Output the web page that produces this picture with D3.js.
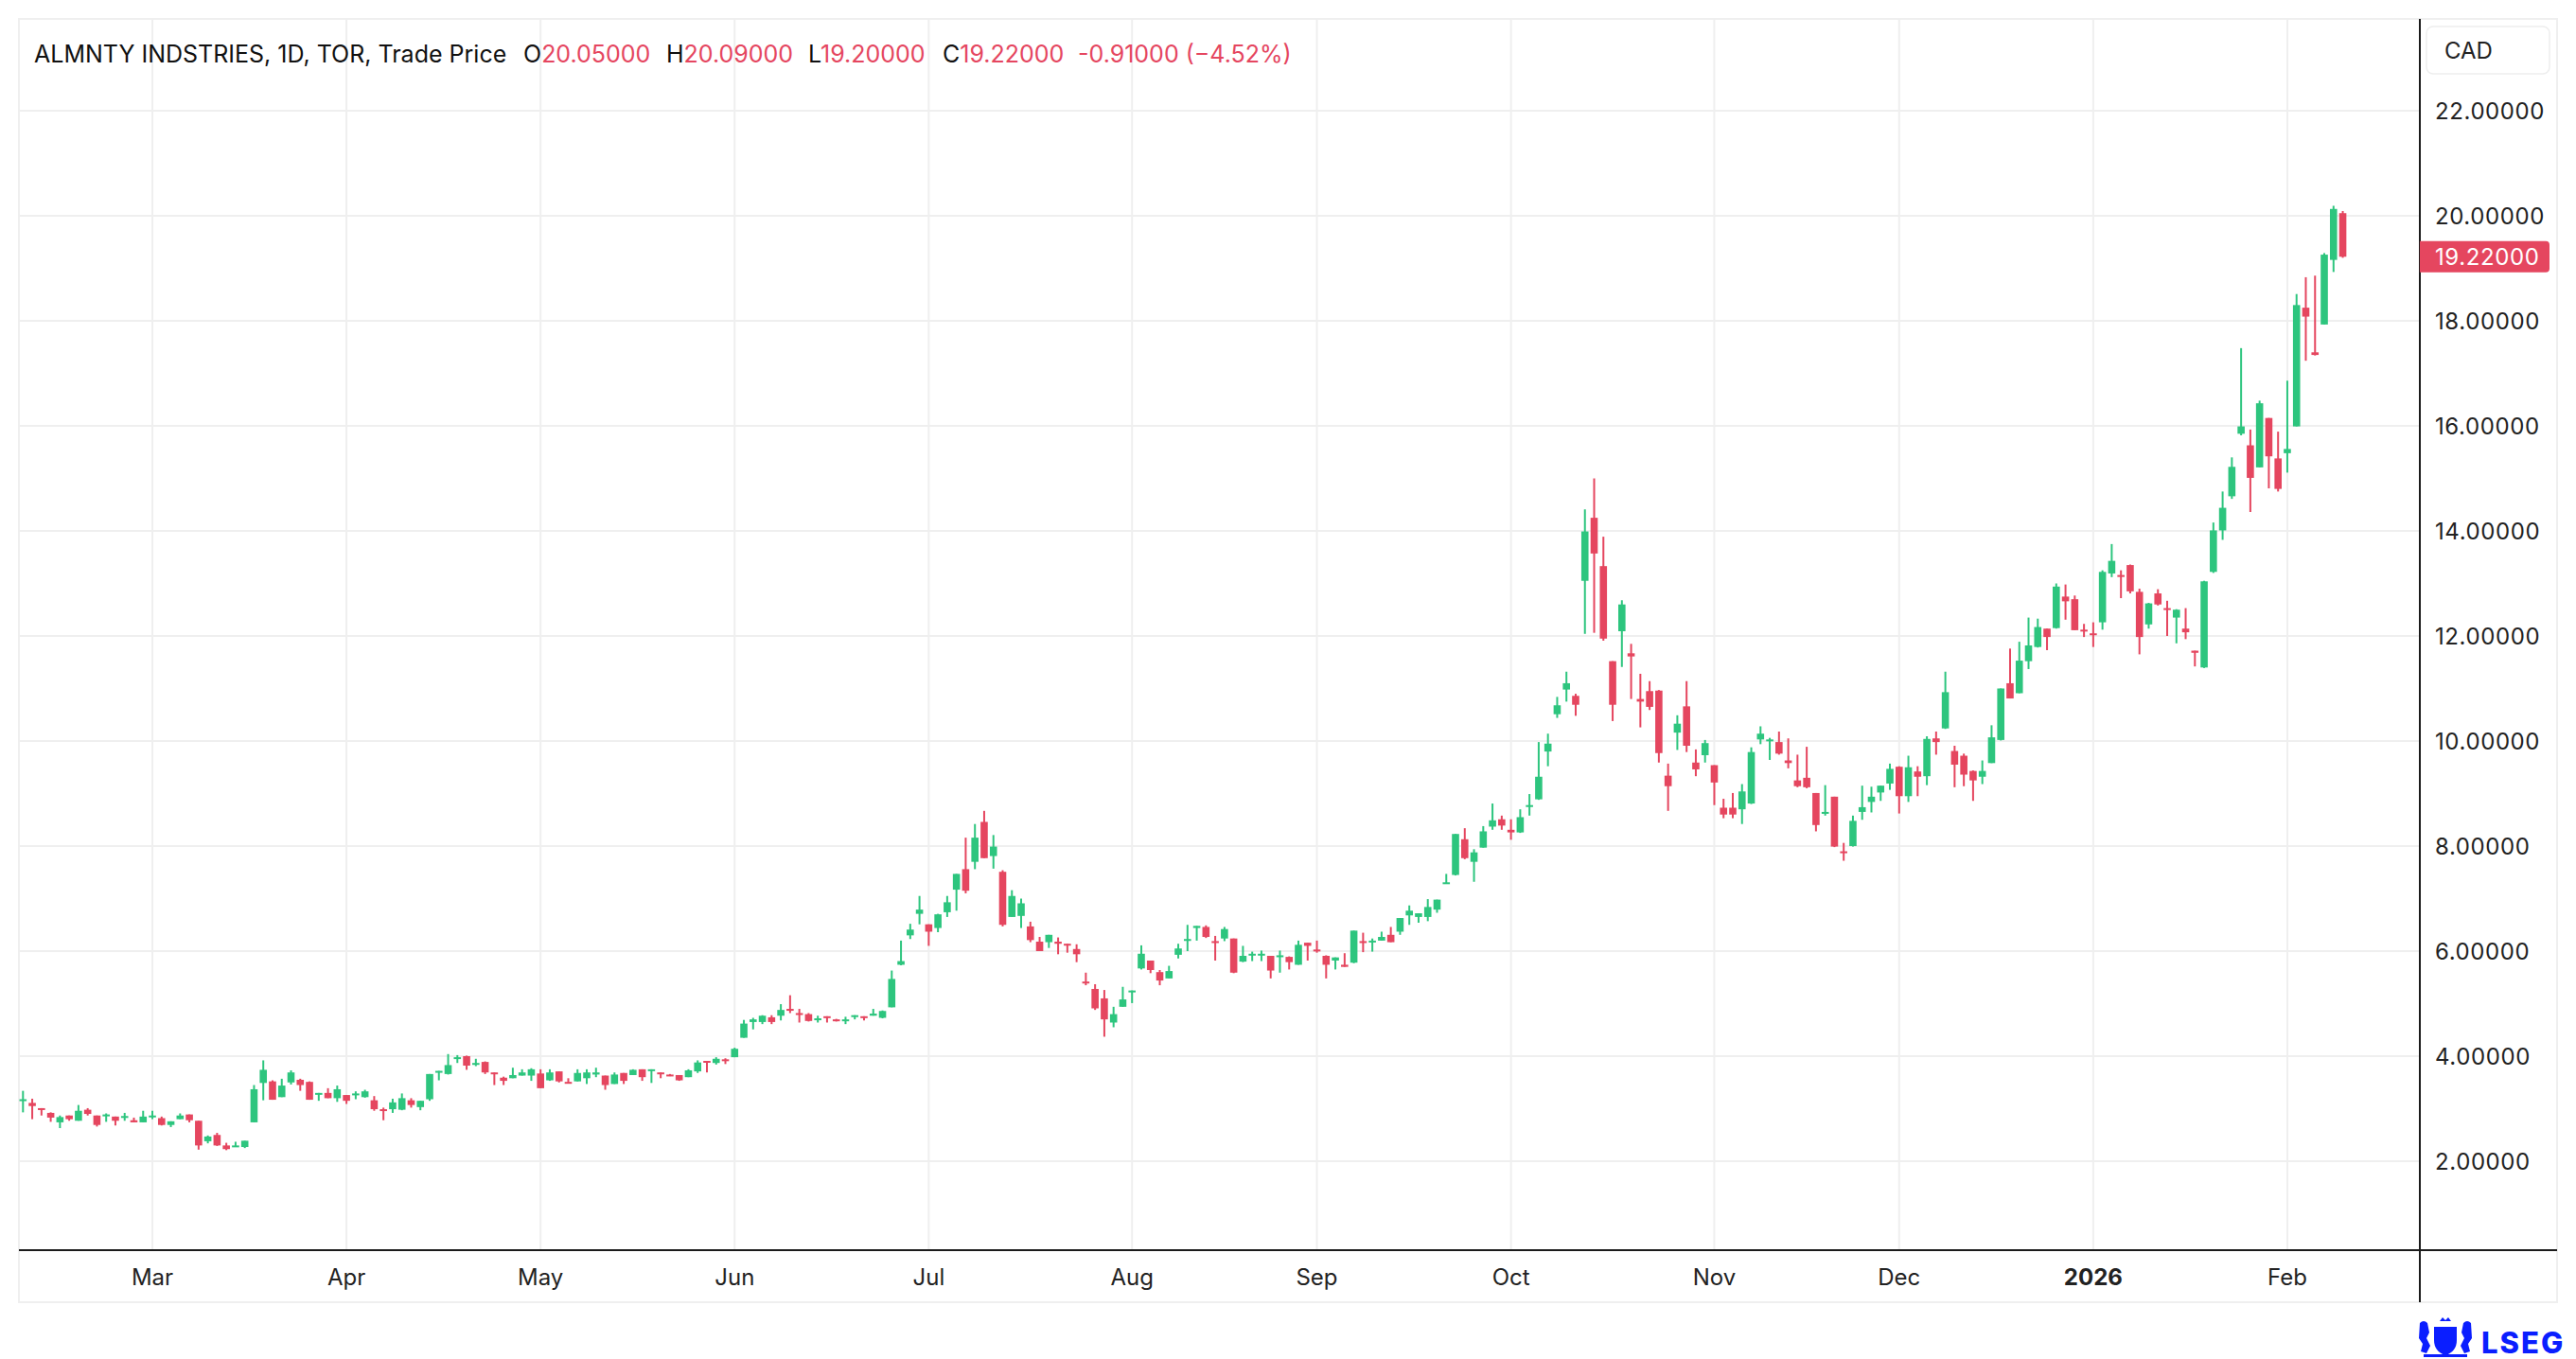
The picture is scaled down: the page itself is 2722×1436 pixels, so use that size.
<!DOCTYPE html>
<html><head><meta charset="utf-8">
<script src="https://cdn.jsdelivr.net/npm/d3@7/dist/d3.min.js"></script>
<style>html,body{margin:0;padding:0;background:#fff;}svg{display:block;}</style>
</head><body><svg id="c" width="2722" height="1436"></svg>
<script>
// ---- DATA ----
const holidays = ["2025-02-17","2025-04-18","2025-05-19","2025-07-01","2025-08-04","2025-09-01","2025-10-13","2025-12-25","2025-12-26","2026-01-01","2026-02-16"];
const firstDay = "2025-02-10", lastDay = "2026-02-10";
const openP = [3.17,3.11,3.01,2.92,2.74,2.87,2.77,2.98,2.87,2.87,2.85,2.83,2.78,2.74,2.85,2.82,2.69,2.80,2.89,2.77,
2.38,2.50,2.30,2.27,2.27,2.74,3.49,3.52,3.22,3.50,3.55,3.51,3.28,3.30,3.20,3.26,3.27,3.22,3.16,2.99,
2.99,2.98,3.16,3.03,3.18,3.69,3.66,3.95,4.00,3.85,3.89,3.69,3.59,3.58,3.63,3.63,3.67,3.54,3.71,3.51,
3.52,3.58,3.65,3.63,3.47,3.68,3.64,3.75,3.73,3.69,3.65,3.64,3.60,3.71,3.91,3.87,3.94,3.98,4.35,4.65,
4.65,4.74,4.77,4.90,4.82,4.80,4.69,4.76,4.70,4.67,4.76,4.76,4.77,4.73,4.93,5.74,6.30,6.71,6.51,6.44,
6.74,7.17,7.56,7.70,8.46,7.81,7.51,6.65,6.67,6.47,6.18,6.17,6.18,6.14,6.04,5.42,5.28,5.10,4.64,4.94,
5.22,5.67,5.82,5.60,5.48,5.93,6.20,6.44,6.46,6.19,6.24,6.24,5.80,5.92,5.92,5.91,5.89,5.89,5.74,6.16,
6.03,5.91,5.82,5.74,5.78,6.19,6.18,6.20,6.31,6.37,6.68,6.65,6.65,6.79,7.29,7.45,8.13,7.70,7.97,8.37,
8.51,8.31,8.26,8.75,8.89,9.80,10.51,10.98,10.86,13.05,14.25,13.33,11.52,12.09,11.67,10.80,10.95,10.96,9.34,10.16,
10.66,9.59,9.73,9.54,8.73,8.73,8.70,8.81,10.03,10.00,9.98,9.63,9.25,9.30,9.01,8.62,8.94,7.90,8.00,8.65,
8.84,9.02,9.19,9.51,8.95,9.42,9.33,10.05,10.24,9.81,9.72,9.43,9.32,9.58,10.02,11.10,10.91,11.52,11.79,12.14,
12.15,12.75,12.70,12.12,12.05,12.26,13.19,13.16,13.35,12.84,12.22,12.81,12.53,12.35,12.14,11.72,11.40,13.22,14.01,14.66,
15.85,15.63,15.21,16.15,15.38,15.48,15.99,18.25,17.40,17.93,19.16,20.05];
const highP = [3.34,3.19,3.01,2.93,2.87,2.87,3.07,3.01,2.87,2.91,2.85,2.92,2.83,2.96,2.96,2.85,2.76,2.91,2.89,2.77,
2.49,2.54,2.35,2.37,2.39,3.45,3.92,3.54,3.57,3.73,3.57,3.52,3.30,3.39,3.44,3.26,3.33,3.36,3.24,3.02,
3.19,3.29,3.20,3.15,3.66,3.72,4.04,4.02,4.01,3.95,3.90,3.69,3.61,3.78,3.75,3.77,3.75,3.75,3.71,3.58,
3.75,3.75,3.78,3.63,3.69,3.68,3.75,3.75,3.75,3.69,3.66,3.64,3.75,3.92,3.91,3.98,3.96,4.16,4.69,4.73,
4.78,4.78,4.99,5.16,4.90,4.82,4.77,4.76,4.71,4.75,4.78,4.76,4.90,4.87,5.63,6.20,6.52,7.05,6.51,6.71,
7.05,7.47,8.16,8.42,8.67,8.21,7.54,7.16,7.00,6.56,6.27,6.31,6.26,6.14,6.13,5.59,5.37,5.26,4.94,5.32,
5.25,6.11,5.82,5.64,5.72,6.14,6.50,6.48,6.49,6.29,6.46,6.24,6.10,5.99,6.01,5.91,6.01,5.90,6.20,6.16,
6.20,5.92,5.88,5.96,6.39,6.35,6.24,6.37,6.46,6.63,6.87,6.72,6.99,6.98,7.47,8.23,8.34,7.94,8.38,8.81,
8.58,8.51,8.70,8.99,9.98,10.14,10.84,11.32,10.90,14.41,15.00,13.89,11.52,12.68,11.85,11.28,11.14,10.97,9.57,10.49,
11.14,9.84,10.02,9.54,8.90,9.01,9.18,9.88,10.28,10.06,10.18,10.05,9.74,9.89,9.01,9.16,8.94,8.06,8.58,9.15,
9.13,9.15,9.57,9.52,9.72,9.52,10.09,10.18,11.32,9.91,9.76,9.44,9.63,10.30,11.00,11.76,11.89,12.35,12.33,12.14,
13.00,12.98,12.77,12.23,12.26,13.25,13.75,13.25,13.36,12.90,12.63,12.89,12.67,12.51,12.53,11.72,13.05,14.16,14.75,15.40,
17.48,15.93,16.48,16.15,15.89,16.86,18.51,18.83,18.86,19.29,20.19,20.09];
const lowP = [2.93,2.80,2.87,2.75,2.63,2.77,2.77,2.87,2.66,2.75,2.68,2.77,2.74,2.74,2.80,2.68,2.65,2.80,2.74,2.22,
2.34,2.29,2.21,2.27,2.25,2.74,3.16,3.17,3.22,3.46,3.34,3.17,3.15,3.20,3.13,3.09,3.18,3.21,2.96,2.78,
2.92,2.97,3.02,2.97,3.15,3.54,3.65,3.87,3.74,3.81,3.66,3.45,3.45,3.58,3.63,3.53,3.39,3.53,3.50,3.49,
3.52,3.47,3.60,3.36,3.47,3.47,3.64,3.53,3.49,3.58,3.62,3.53,3.60,3.68,3.69,3.84,3.85,3.98,4.35,4.51,
4.61,4.61,4.68,4.82,4.64,4.66,4.64,4.64,4.66,4.61,4.70,4.68,4.77,4.72,4.93,5.73,6.23,6.51,6.10,6.36,
6.65,6.77,7.10,7.56,7.77,7.57,6.47,6.65,6.44,6.17,6.00,6.06,5.94,5.97,5.79,5.35,4.88,4.37,4.55,4.94,
5.01,5.65,5.58,5.35,5.48,5.86,6.00,6.20,6.25,5.82,6.19,5.58,5.79,5.81,5.81,5.48,5.59,5.65,5.74,5.82,
5.97,5.48,5.65,5.70,5.77,5.98,5.99,6.20,6.17,6.31,6.50,6.54,6.57,6.73,7.29,7.44,7.75,7.32,7.97,8.31,
8.31,8.12,8.25,8.58,8.88,9.52,10.44,10.75,10.48,12.04,12.06,11.91,10.38,11.41,10.80,10.26,10.59,9.59,8.67,9.83,
9.79,9.33,9.59,8.78,8.53,8.53,8.42,8.80,9.94,9.64,9.74,9.48,9.12,9.10,8.28,8.58,7.98,7.72,7.99,8.50,
8.64,8.86,9.07,8.62,8.84,8.95,9.16,9.74,10.23,9.12,9.14,8.86,9.18,9.58,10.01,10.81,10.91,11.37,11.78,11.73,
12.14,12.31,12.11,11.98,11.79,12.12,13.12,12.72,12.81,11.65,12.14,12.58,12.00,11.86,11.94,11.42,11.39,13.20,13.83,14.61,
15.82,14.36,15.21,14.81,14.75,15.11,15.99,17.24,17.34,17.93,18.93,19.20];
const closeP = [3.18,3.05,2.98,2.83,2.84,2.80,2.96,2.90,2.69,2.89,2.77,2.86,2.74,2.85,2.87,2.69,2.76,2.87,2.78,2.30,
2.47,2.30,2.23,2.30,2.39,3.37,3.74,3.17,3.44,3.69,3.45,3.17,3.30,3.20,3.37,3.15,3.29,3.33,2.99,2.96,
3.12,3.20,3.07,3.15,3.66,3.72,3.83,3.98,3.82,3.87,3.69,3.66,3.53,3.64,3.69,3.75,3.39,3.69,3.52,3.49,
3.68,3.69,3.69,3.45,3.65,3.53,3.74,3.60,3.75,3.66,3.63,3.54,3.73,3.88,3.88,3.95,3.91,4.14,4.62,4.70,
4.77,4.65,4.88,4.87,4.79,4.67,4.72,4.73,4.67,4.70,4.78,4.73,4.81,4.86,5.47,5.81,6.41,6.79,6.37,6.70,
6.93,7.47,7.15,8.16,7.77,7.99,6.50,7.05,6.91,6.21,6.00,6.31,6.14,6.11,5.94,5.39,4.91,4.70,4.80,5.08,
5.25,5.95,5.64,5.44,5.62,6.05,6.23,6.48,6.27,6.16,6.42,5.59,5.91,5.95,5.95,5.63,5.92,5.79,6.12,6.10,
6.00,5.74,5.88,5.70,6.39,6.16,6.20,6.27,6.17,6.63,6.77,6.72,6.84,6.98,7.31,8.23,7.77,7.88,8.28,8.49,
8.39,8.26,8.55,8.78,9.32,9.95,10.68,11.10,10.69,13.99,13.57,11.95,10.69,12.60,11.61,10.75,10.65,9.77,9.14,10.33,
9.91,9.46,9.96,9.21,8.60,8.60,9.04,9.79,10.14,10.03,9.76,9.58,9.14,9.12,8.40,8.65,7.99,7.87,8.48,8.74,
8.94,9.15,9.47,8.95,9.50,9.32,10.04,9.98,10.93,9.55,9.36,9.25,9.43,10.07,11.00,10.81,11.53,11.82,12.17,11.98,
12.94,12.66,12.11,12.09,12.03,13.22,13.43,13.14,12.85,11.98,12.62,12.60,12.50,12.50,12.07,11.68,13.04,14.01,14.44,15.22,
15.99,15.01,16.43,15.42,14.80,15.56,18.30,18.08,17.35,19.26,20.13,19.22];
const priceTicks = [2,4,6,8,10,12,14,16,18,20,22];
const monthNames = ["Jan","Feb","Mar","Apr","May","Jun","Jul","Aug","Sep","Oct","Nov","Dec"];
const header = {title:"ALMNTY INDSTRIES, 1D, TOR, Trade Price", o:"20.05000", h:"20.09000", l:"19.20000", c:"19.22000", chg:"-0.91000 (\u22124.52%)"};
const currency = "CAD";

// ---- trading calendar ----
function tradingDays(a, b, hol){
  const out=[]; const hs=new Set(hol);
  let d=new Date(a+"T00:00:00Z"); const e=new Date(b+"T00:00:00Z");
  while(d<=e){const wd=d.getUTCDay(); const s=d.toISOString().slice(0,10);
    if(wd!==0&&wd!==6&&!hs.has(s)) out.push(new Date(d)); d=new Date(d.getTime()+86400000);}
  return out;
}
const dates = tradingDays(firstDay,lastDay,holidays);
const data = dates.map((d,i)=>({d, i, o:openP[i], h:highP[i], l:lowP[i], c:closeP[i]})).filter(r=>r.o!==undefined);

// ---- layout ----
const L=20, R=2557, T=20, B=1321, FR=2702, FB=1376;
const GREEN="#2DC57E", RED="#E5465F";
const x = d3.scaleLinear().domain([-0.44, 259.34]).range([L, R]);
const y = d3.scaleLinear().domain([2, 22]).range([1227, 117]);
const svg = d3.select("#c");
const FONT = "Inter, 'Noto Sans', sans-serif";

// frame
svg.append("rect").attr("x",L).attr("y",T).attr("width",FR-L).attr("height",FB-T)
  .attr("fill","#fff").attr("stroke","#efefef").attr("stroke-width",2);

// horizontal grid
svg.append("g").selectAll("line").data(priceTicks).join("line")
  .attr("x1",L).attr("x2",R).attr("y1",d=>y(d)).attr("y2",d=>y(d))
  .attr("stroke","#efefef").attr("stroke-width",2);

// month ticks: first trading day of each month (after the first month)
const monthTicks=[];
data.forEach((r,k)=>{ if(k>0 && r.d.getUTCMonth()!==data[k-1].d.getUTCMonth()) monthTicks.push(r); });
svg.append("g").selectAll("line").data(monthTicks).join("line")
  .attr("x1",d=>x(d.i)).attr("x2",d=>x(d.i)).attr("y1",T).attr("y2",B)
  .attr("stroke","#efefef").attr("stroke-width",2);

// candles
const bw = 7.6;
const cg = svg.append("g");
cg.selectAll("line").data(data).join("line")
  .attr("x1",d=>x(d.i)).attr("x2",d=>x(d.i)).attr("y1",d=>y(d.h)).attr("y2",d=>y(d.l))
  .attr("stroke",d=>d.c>=d.o?GREEN:RED).attr("stroke-width",2);
cg.selectAll("rect").data(data).join("rect")
  .attr("x",d=>x(d.i)-bw/2).attr("width",bw)
  .attr("y",d=>y(Math.max(d.o,d.c)))
  .attr("height",d=>Math.max(2, Math.abs(y(d.o)-y(d.c))))
  .attr("fill",d=>d.c>=d.o?GREEN:RED);

// axis lines
svg.append("line").attr("x1",R).attr("x2",R).attr("y1",T).attr("y2",FB).attr("stroke","#1b1b1b").attr("stroke-width",2);
svg.append("line").attr("x1",L).attr("x2",FR).attr("y1",B).attr("y2",B).attr("stroke","#1b1b1b").attr("stroke-width",2);

// price labels
svg.append("g").selectAll("text").data(priceTicks.filter(v=>v>=2)).join("text")
  .attr("x",2573).attr("y",d=>y(d)+8.5).text(d=>d.toFixed(5))
  .attr("font-family",FONT).attr("font-size",24).attr("fill","#222").attr("letter-spacing",0.6);

// currency box
svg.append("rect").attr("x",2564).attr("y",28).attr("width",130).attr("height",50).attr("rx",7)
  .attr("fill","#fff").attr("stroke","#eeeeee").attr("stroke-width",1.5);
svg.append("text").attr("x",2583).attr("y",61.5).text(currency)
  .attr("font-family",FONT).attr("font-size",24).attr("fill","#222");

// last price label
const last = data[data.length-1];
const ly = y(last.c);
svg.append("path").attr("d",`M${R},${ly-16.5} H${2690} a4,4 0 0 1 4,4 V${ly+12.5} a4,4 0 0 1 -4,4 H${R} Z`).attr("fill",RED);
svg.append("text").attr("x",2573).attr("y",ly+8.5).text(last.c.toFixed(5))
  .attr("font-family",FONT).attr("font-size",24).attr("fill","#fff").attr("letter-spacing",0.6);

// month labels
svg.append("g").selectAll("text").data(monthTicks).join("text")
  .attr("x",d=>x(d.i)).attr("y",1358).attr("text-anchor","middle")
  .attr("font-family",FONT).attr("font-size",24).attr("fill","#222")
  .attr("font-weight",d=>d.d.getUTCMonth()===0?700:400)
  .text(d=>d.d.getUTCMonth()===0? String(d.d.getUTCFullYear()) : monthNames[d.d.getUTCMonth()]);

// header
const hg = svg.append("g").attr("font-family",FONT).attr("font-size",25);
hg.append("text").attr("x",36).attr("y",66).attr("fill","#111").text(header.title);
[["O",553,header.o],["H",704,header.h],["L",854,header.l],["C",996,header.c]].forEach(([k,px,v])=>{
  const t=hg.append("text").attr("x",px).attr("y",66);
  t.append("tspan").attr("fill","#111").text(k);
  t.append("tspan").attr("fill",RED).text(v);
});
hg.append("text").attr("x",1139).attr("y",66).attr("fill",RED).text(header.chg);

// LSEG logo
const lg = svg.append("g").attr("fill","#0A1EFF");
lg.append("text").attr("x",2622).attr("y",1430).text("LSEG")
  .attr("font-family",FONT).attr("font-size",31).attr("font-weight",800).attr("letter-spacing",2);
lg.append("path").attr("d","M2572,1402 h24 v14 q0,12 -12,16 q-12,-4 -12,-16 Z");
lg.append("path").attr("d","M2557,1398 q4,-4 8,0 l2,10 l-3,6 l4,8 l-4,8 l-6,-2 l2,-8 l-4,-6 Z");
lg.append("path").attr("d","M2611,1398 q-4,-4 -8,0 l-2,10 l3,6 l-4,8 l4,8 l6,-2 l-2,-8 l4,-6 Z");
lg.append("rect").attr("x",2561).attr("y",1431).attr("width",46).attr("height",3);
lg.append("path").attr("d","M2578,1396 l3,-4 l3,3 l3,-3 l3,4 Z");
</script></body></html>
